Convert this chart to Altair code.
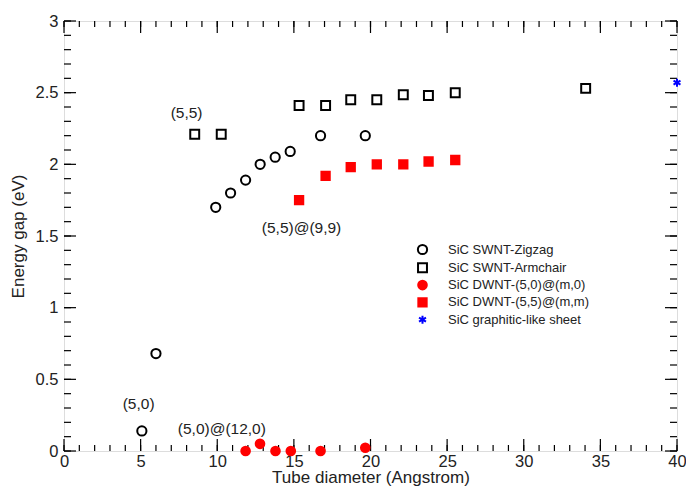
import altair as alt
import pandas as pd

# ---- data ----
zz_x = [5.08, 6.0, 9.9, 10.87, 11.85, 12.8, 13.78, 14.76, 16.74, 19.66]
zz_y = [0.14, 0.68, 1.70, 1.80, 1.89, 2.00, 2.05, 2.09, 2.20, 2.20]
ac_x = [8.53, 10.26, 15.34, 17.07, 18.71, 20.41, 22.14, 23.78, 25.53, 34.04]
ac_y = [2.21, 2.21, 2.41, 2.41, 2.45, 2.45, 2.485, 2.48, 2.50, 2.53]
dz_x = [11.85, 12.79, 13.8, 14.8, 16.74, 19.66]
dz_y = [0.0, 0.05, 0.0, 0.0, 0.0, 0.023]
da_x = [15.34, 17.07, 18.71, 20.41, 22.14, 23.79, 25.53]
da_y = [1.75, 1.92, 1.98, 2.00, 2.00, 2.02, 2.03]
gs_x = [40.0]
gs_y = [2.57]

series_names = [
    "SiC SWNT-Zigzag",
    "SiC SWNT-Armchair",
    "SiC DWNT-(5,0)@(m,0)",
    "SiC DWNT-(5,5)@(m,m)",
    "SiC graphitic-like sheet",
]

ann_text = ["(5,5)", "(5,5)@(9,9)", "(5,0)", "(5,0)@(12,0)"]
ann_x = [8.0, 15.5, 4.87, 10.3]
ann_y = [2.36, 1.555, 0.33, 0.155]

x_major = [0, 5, 10, 15, 20, 25, 30, 35, 40]
x_minor = list(range(0, 41))
y_major = [0, 0.5, 1, 1.5, 2, 2.5, 3]
y_minor = [i / 10 for i in range(0, 31)]

# ---- build tables ----
rows = []
for name, xs, ys in zip(series_names,
                        [zz_x, ac_x, dz_x, da_x, gs_x],
                        [zz_y, ac_y, dz_y, da_y, gs_y]):
    for a, b in zip(xs, ys):
        rows.append({"series": name, "d": a, "gap": b})
pts = pd.DataFrame(rows)
ann = pd.DataFrame({"t": ann_text, "d": ann_x, "gap": ann_y})

W, H = 613, 430
FONT = "Liberation Sans"

xs = alt.Scale(domain=[0, 40], nice=False, zero=False)
ys = alt.Scale(domain=[0, 3], nice=False, zero=False)

asterisk = "M0,-1L0,1M-0.87,-0.5L0.87,0.5M-0.87,0.5L0.87,-0.5"

legend = alt.Legend(
    title=None, orient="none", legendX=352, legendY=222,
    labelFont=FONT, labelFontSize=13, labelColor="#222",
    labelOffset=19, rowPadding=0.3, padding=0, symbolStrokeWidth=2,
)

points = alt.Chart(pts).mark_point(filled=True, opacity=1, strokeWidth=2).encode(
    x=alt.X("d:Q", scale=xs,
            axis=alt.Axis(values=x_major, ticks=False, grid=False, domain=False,
                          title="Tube diameter (Angstrom)", labelFontSize=16.5,
                          labelFont=FONT, titleFont=FONT, titleFontSize=17,
                          titleFontWeight="normal", labelColor="#222",
                          titleColor="#222", labelPadding=2, titlePadding=0,
                          labelFlush=False)),
    y=alt.Y("gap:Q", scale=ys,
            axis=alt.Axis(values=y_major, ticks=False, grid=False, domain=False,
                          format="~g",
                          title="Energy gap (eV)", labelFontSize=16.5,
                          labelFont=FONT, titleFont=FONT, titleFontSize=17,
                          titleFontWeight="normal", labelColor="#222",
                          titleColor="#222", labelPadding=6, titlePadding=8,
                          labelFlush=False)),
    shape=alt.Shape("series:N", scale=alt.Scale(
        domain=series_names,
        range=["circle", "square", "circle", "square", asterisk]), legend=legend),
    fill=alt.Fill("series:N", scale=alt.Scale(
        domain=series_names,
        range=["transparent", "transparent", "#ff0000", "#ff0000", "transparent"]),
        legend=legend),
    stroke=alt.Stroke("series:N", scale=alt.Scale(
        domain=series_names,
        range=["#000000", "#000000", "#ff0000", "#ff0000", "#0000ff"]),
        legend=legend),
    size=alt.Size("series:N", scale=alt.Scale(
        domain=series_names, range=[85, 64, 90, 90, 170]), legend=legend),
)

texts = alt.Chart(ann).mark_text(font=FONT, fontSize=15.5, color="#222",
                                 align="center", baseline="middle").encode(
    x=alt.X("d:Q", scale=xs), y=alt.Y("gap:Q", scale=ys), text="t:N")


def xticks(vals, L):
    df = pd.DataFrame({"v": vals})
    b = alt.Chart(df).mark_rule(color="black", strokeWidth=1.2).encode(
        x=alt.X("v:Q", scale=xs), y=alt.value(H), y2=alt.value(H - L))
    t = alt.Chart(df).mark_rule(color="black", strokeWidth=1.2).encode(
        x=alt.X("v:Q", scale=xs), y=alt.value(0), y2=alt.value(L))
    return [b, t]


def yticks(vals, L):
    df = pd.DataFrame({"v": vals})
    l = alt.Chart(df).mark_rule(color="black", strokeWidth=1.2).encode(
        y=alt.Y("v:Q", scale=ys), x=alt.value(0), x2=alt.value(L))
    r = alt.Chart(df).mark_rule(color="black", strokeWidth=1.2).encode(
        y=alt.Y("v:Q", scale=ys), x=alt.value(W), x2=alt.value(W - L))
    return [l, r]


layers = (xticks(x_minor, 6) + xticks(x_major, 12)
          + yticks(y_minor, 7) + yticks(y_major, 12)
          + [points, texts])

chart = alt.layer(*layers).properties(
    width=W, height=H,
    autosize=alt.AutoSizeParams(type="none"),
    padding={"left": 56, "top": 13, "right": 9, "bottom": 36},
).configure_view(stroke="black", strokeWidth=1.5).configure(background="white")

chart.save("out.html", embed_options={"renderer": "svg", "actions": False})
